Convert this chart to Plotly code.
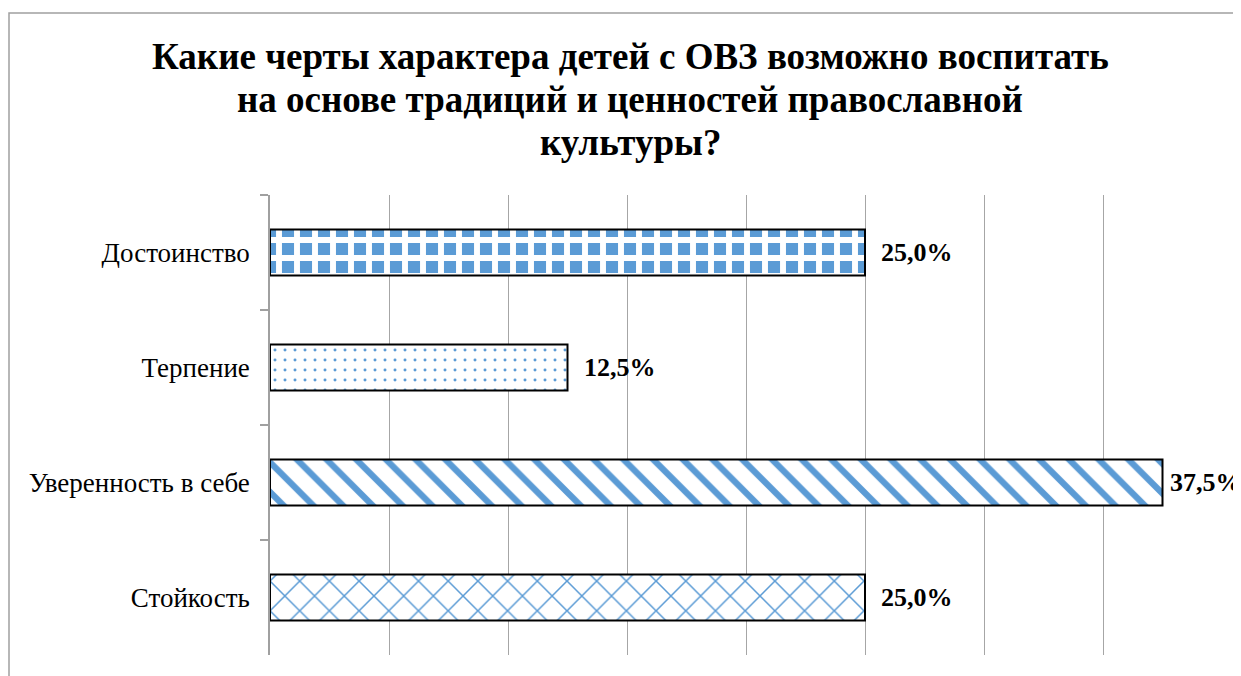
import plotly.graph_objects as go

# ---- data (top-to-bottom order as in the chart) ----
categories = ["Достоинство", "Терпение", "Уверенность в себе", "Стойкость"]
values = [25.0, 12.5, 37.5, 25.0]  # percent
title_lines = [
    "Какие черты характера детей с ОВЗ возможно воспитать",
    "на основе традиций и ценностей православной",
    "культуры?",
]

# ---- styles ----
BLUE = "#5B9BD5"
pattern_shape = ["+", ".", "\\", "x"]
pattern_fg = ["#FFFFFF", BLUE, BLUE, BLUE]
pattern_bg = [BLUE, "#FFFFFF", "#FFFFFF", "#FFFFFF"]
pattern_size = [18, 10, 21, 21]
pattern_solidity = [0.55, 0.07, 0.3, 0.14]
label_shift = [14, 14, 5, 14]

OFF = 8  # page body margin
W, H = 1241 - OFF, 676 - OFF
ML, MT = 270 - OFF, 195 - OFF
MR, MB = W - (1222 - OFF), H - (655 - OFF)
FONT = "Liberation Serif"
pw = W - ML - MR
ph = H - MT - MB


def px_x(p):
    return (p - OFF - ML) / pw


def px_y(p):
    return (H - MB - (p - OFF)) / ph


fig = go.Figure()
fig.add_trace(go.Bar(
    y=categories,
    x=values,
    orientation="h",
    marker=dict(
        color="#FFFFFF",
        line=dict(color="#000000", width=2),
        pattern=dict(
            shape=pattern_shape,
            fgcolor=pattern_fg,
            bgcolor=pattern_bg,
            size=pattern_size,
            solidity=pattern_solidity,
            fillmode="replace",
        ),
    ),
    hoverinfo="skip",
    showlegend=False,
))

for cat, v, sh in zip(categories, values, label_shift):
    fig.add_annotation(
        x=v, y=cat, xref="x", yref="y",
        text="<b>" + f"{v:.1f}%".replace(".", ",") + "</b>",
        showarrow=False, xanchor="left", yanchor="middle", xshift=sh,
        font=dict(family=FONT, size=26, color="#000000"),
    )

# title, one annotation per line
title_y = [56, 99, 142]
for line, ty in zip(title_lines, title_y):
    fig.add_annotation(
        x=px_x(630), y=px_y(ty), xref="paper", yref="paper",
        text="<b>" + line + "</b>", showarrow=False,
        xanchor="center", yanchor="middle",
        font=dict(family=FONT, size=37, color="#000000"),
    )

fig.add_shape(
    type="rect", xref="paper", yref="paper",
    x0=px_x(9), x1=px_x(1260),
    y0=px_y(700), y1=px_y(13),
    line=dict(color="#A0A0A0", width=1.5), fillcolor="rgba(0,0,0,0)",
    layer="below",
)

fig.update_layout(
    width=W, height=H,
    margin=dict(l=ML, r=MR, t=MT, b=MB),
    paper_bgcolor="#FFFFFF", plot_bgcolor="#FFFFFF",
    bargap=0.6,
    xaxis=dict(
        range=[0, 40], dtick=5, showticklabels=False,
        showgrid=True, gridcolor="#A6A6A6", gridwidth=1.2,
        zeroline=False, showline=False, ticks="",
    ),
    yaxis=dict(
        autorange="reversed", showgrid=False, zeroline=False,
        showline=True, linecolor="#A0A0A0", linewidth=1.5,
        ticks="outside", ticklen=8, tickcolor="#A0A0A0", tickwidth=1.5,
        tickson="boundaries", ticklabelstandoff=13,
        tickfont=dict(family=FONT, size=27, color="#000000"),
    ),
)

fig.write_html("out.html")
